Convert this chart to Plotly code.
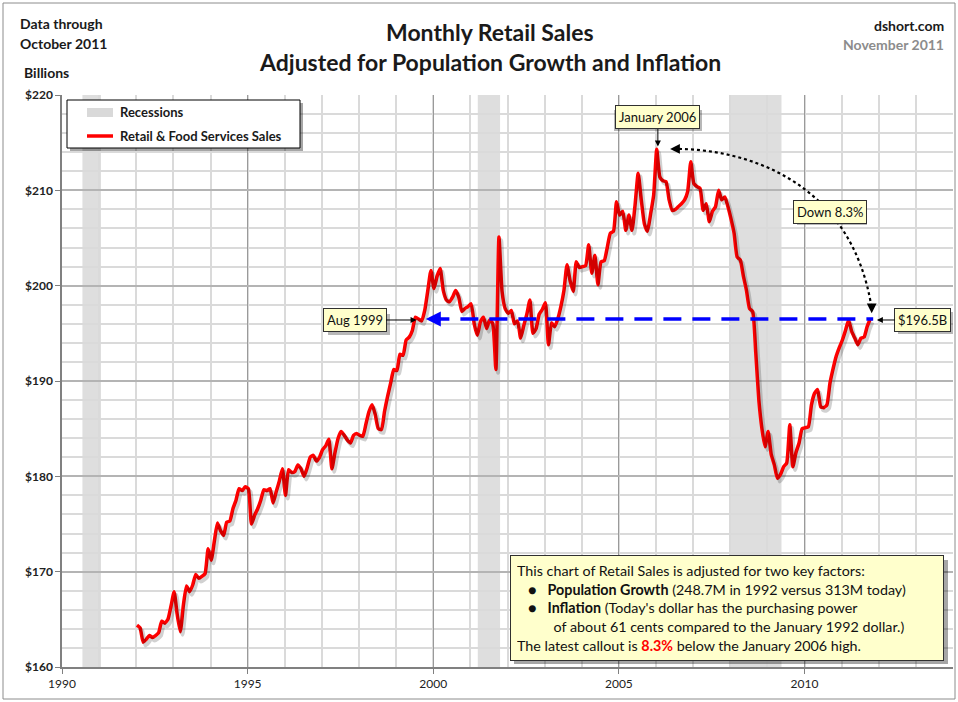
import plotly.graph_objects as go

# ---------------- data ----------------
years = list(range(1992, 2012))
sales_by_year = {
    1992: [164.4, 164.1, 162.6, 162.9, 163.3, 163.1, 163.3, 163.6, 164.8, 164.6, 165.0, 166.4],
    1993: [167.9, 165.5, 163.7, 166.5, 168.5, 167.9, 168.6, 169.7, 169.3, 169.5, 169.8, 172.4],
    1994: [171.2, 173.2, 175.1, 174.3, 173.8, 175.2, 175.3, 176.6, 177.5, 178.7, 178.5, 178.9],
    1995: [178.7, 175.0, 175.9, 176.6, 177.5, 178.6, 178.5, 178.7, 177.2, 178.4, 179.5, 180.8],
    1996: [178.0, 180.7, 180.4, 180.5, 181.2, 180.8, 180.0, 180.9, 182.0, 182.2, 181.6, 182.0],
    1997: [182.8, 183.2, 183.9, 180.8, 182.5, 184.0, 184.7, 184.3, 183.8, 183.5, 184.3, 184.5],
    1998: [184.3, 184.2, 185.5, 186.8, 187.5, 186.5, 185.0, 184.9, 186.8, 188.4, 189.8, 191.2],
    1999: [191.1, 192.8, 192.7, 194.3, 194.6, 195.3, 196.7, 196.5, 196.3, 197.4, 199.5, 201.6],
    2000: [199.7, 201.0, 201.8, 199.5, 198.5, 198.3, 198.8, 199.5, 198.8, 197.3, 197.6, 197.8],
    2001: [198.1, 196.0, 194.8, 196.2, 196.7, 195.5, 196.4, 196.0, 191.2, 205.1, 199.4, 197.6],
    2002: [197.1, 197.4, 196.0, 196.3, 194.5, 195.8, 197.0, 198.5, 195.0, 195.5, 197.0, 197.5],
    2003: [198.2, 193.8, 196.1, 195.7, 196.5, 197.8, 199.5, 202.2, 200.5, 199.4, 202.5, 201.9],
    2004: [202.0, 202.1, 204.3, 201.3, 203.2, 200.1, 202.5, 202.6, 204.0, 205.5, 205.7, 208.8],
    2005: [207.4, 207.8, 205.8, 207.4, 205.8, 208.5, 211.8, 209.0, 206.5, 205.7, 207.5, 209.5],
    2006: [214.3, 211.4, 211.0, 210.9, 209.0, 207.9, 208.0, 208.3, 208.6, 209.0, 209.9, 213.0],
    2007: [210.7, 210.4, 210.2, 207.9, 208.6, 206.7, 207.8, 208.3, 210.0, 209.0, 209.3, 208.3],
    2008: [207.0, 205.5, 203.0, 202.7, 201.0, 199.5, 197.6, 197.3, 193.0, 188.0, 185.0, 183.1],
    2009: [184.7, 182.3, 181.2, 179.8, 180.2, 181.0, 181.4, 185.4, 181.0, 182.5, 183.5, 185.0],
    2010: [185.1, 185.2, 187.5, 188.7, 189.1, 187.3, 187.2, 187.5, 189.8, 191.3, 192.6, 193.5],
    2011: [194.3, 195.3, 196.4, 195.2, 194.5, 193.8, 194.5, 194.6, 195.7, 196.5],
}
recessions = [(1990.55, 1991.05), (2001.2, 2001.8), (2008.0, 2009.38)]
y_ticks = [160, 170, 180, 190, 200, 210, 220]
x_ticks = [1990, 1995, 2000, 2005, 2010]
latest_value = 196.5

dates, values = [], []
for yr in years:
    for m, v in enumerate(sales_by_year[yr]):
        dates.append(yr + m / 12 + 0.02)
        values.append(v)

FONT = "Lato"

# plot area in pixels: x 62..953, y 95..667
def px2paper(px, py):
    return (px - 62) / 891, (667 - py) / 572

def prect(x0, y0, x1, y1, **kw):
    a, b = px2paper(x0, y0)
    c, d = px2paper(x1, y1)
    return dict(type="rect", xref="paper", yref="paper", x0=a, x1=c, y0=d, y1=b, **kw)

SHADOW = "rgba(0,0,0,0.28)"

# ---------------- figure ----------------
fig = go.Figure()

# shadow of the line (same data drawn on a slightly offset overlay axis)
fig.add_trace(go.Scatter(x=dates, y=values, mode="lines", xaxis="x2", yaxis="y2",
                         line=dict(color="rgba(0,0,0,0.18)", width=4, shape="spline", smoothing=0.5),
                         showlegend=False, hoverinfo="skip"))
fig.add_trace(go.Scatter(x=dates, y=values, mode="lines", name="Retail & Food Services Sales",
                         line=dict(color="#ff0000", width=3.5, shape="spline", smoothing=0.5),
                         showlegend=False))

shapes = []
for a, b in recessions:
    shapes.append(dict(type="rect", xref="x", yref="y", x0=a, x1=b, y0=160, y1=220,
                       fillcolor="#dedede", line=dict(width=0), layer="below"))

# blue dashed reference line at latest value
shapes.append(dict(type="line", xref="x", yref="y", x0=1999.95, x1=2011.85,
                   y0=latest_value, y1=latest_value,
                   line=dict(color="#0000ff", width=3.5, dash="18px,11px")))
# dotted curved arrow
shapes.append(dict(type="path", xref="x", yref="y",
                   path="M2006.62,214.34 C2008.59,214.23 2011.30,210.56 2011.81,197.6",
                   line=dict(color="#000000", width=2.2, dash="dot")))

# callout box shadows
for (x0, y0, x1, y1) in [(325, 311, 387, 332), (611, 107, 699, 128),
                         (794, 201, 864, 222), (895, 309, 950, 331)]:
    shapes.append(prect(x0 + 3, y0 + 3, x1 + 3, y1 + 3, fillcolor=SHADOW,
                        line=dict(width=0), layer="above"))

# info box shadow
shapes.append(prect(514, 560, 948, 664, fillcolor="rgba(0,0,0,0.35)",
                    line=dict(width=0), layer="above"))

# manual legend
shapes.append(prect(70, 103, 303, 151, fillcolor="rgba(0,0,0,0.35)", line=dict(width=0), layer="above"))
shapes.append(prect(67, 100, 300, 148, fillcolor="white", line=dict(color="#000", width=1), layer="above"))
shapes.append(prect(87, 108, 113, 117, fillcolor="#d9d9d9", line=dict(width=0), layer="above"))
lx0, ly = px2paper(87, 136)
lx1, _ = px2paper(113, 136)
shapes.append(dict(type="line", xref="paper", yref="paper", x0=lx0, x1=lx1, y0=ly, y1=ly,
                   line=dict(color="#ff0000", width=3.5), layer="above"))

# outer frame
shapes.append(prect(3, 3, 955, 699, line=dict(color="#8c8c8c", width=1), layer="below"))

box = dict(bgcolor="#ffffcc", bordercolor="#303030", borderwidth=1, borderpad=3,
           font=dict(family=FONT, size=13, color="#111"))

annotations = []
annotations.append(dict(x=1999.55, y=196.4, xref="x", yref="y", text="Aug 1999",
                        showarrow=True, ax=-62, ay=0, arrowhead=2, arrowsize=1.2,
                        arrowwidth=1, arrowcolor="#000", **box))
annotations.append(dict(x=1999.8, y=latest_value, xref="x", yref="y", text="",
                        showarrow=True, ax=16, ay=0, arrowhead=2, arrowsize=1,
                        arrowwidth=3, arrowcolor="#0000ff"))
annotations.append(dict(x=2006.05, y=214.6, xref="x", yref="y", text="January 2006",
                        showarrow=True, ax=0, ay=-29, arrowhead=2, arrowsize=1.2,
                        arrowwidth=1, arrowcolor="#000", **box))
annotations.append(dict(x=2006.38, y=214.34, xref="x", yref="y", text="",
                        showarrow=True, ax=10, ay=0, arrowhead=2, arrowsize=1.3,
                        arrowwidth=1.5, arrowcolor="#000"))
annotations.append(dict(x=2011.81, y=197.1, xref="x", yref="y", text="",
                        showarrow=True, ax=0, ay=-10, arrowhead=2, arrowsize=1.3,
                        arrowwidth=1.5, arrowcolor="#000"))
annotations.append(dict(x=2010.70, y=207.78, xref="x", yref="y", text="Down 8.3%",
                        showarrow=False, **box))
annotations.append(dict(x=2011.95, y=196.4, xref="x", yref="y", text="$196.5B",
                        showarrow=True, ax=46, ay=0, arrowhead=2, arrowsize=1.2,
                        arrowwidth=1, arrowcolor="#000", **box))

# explanatory text box
bx, by = px2paper(727, 608)
info = ("This chart of Retail Sales is adjusted for two key factors:<br>"
        "   ●   <b>Population Growth</b> (248.7M in 1992 versus 313M today)<br>"
        "   ●   <b>Inflation</b> (Today's dollar has the purchasing power<br>"
        "          of about 61 cents compared to the January 1992 dollar.)<br>"
        "The latest callout is <b><span style='color:#ff0000'>8.3%</span></b> below the January 2006 high.")
annotations.append(dict(x=bx, y=by, xref="paper", yref="paper", text=info, align="left",
                        showarrow=False, xanchor="center", yanchor="middle",
                        width=420, height=92,
                        bgcolor="#ffffcc", bordercolor="#303030", borderwidth=1, borderpad=6,
                        font=dict(family=FONT, size=14.3, color="#111")))

def ptext(px, py, text, size, color="#1a1a1a", xanchor="left", bold=True):
    x, y = px2paper(px, py)
    t = f"<b>{text}</b>" if bold else text
    return dict(x=x, y=y, xref="paper", yref="paper", text=t, showarrow=False,
                xanchor=xanchor, yanchor="middle", font=dict(family=FONT, size=size, color=color))

annotations += [
    ptext(490, 32, "Monthly Retail Sales", 23, xanchor="center"),
    ptext(490, 62, "Adjusted for Population Growth and Inflation", 23, xanchor="center"),
    ptext(18, 23, "Data through", 14),
    ptext(18, 43, "October 2011", 14),
    ptext(22, 73, "Billions", 14),
    ptext(946, 25, "dshort.com", 14, xanchor="right"),
    ptext(946, 45, "November 2011", 14, color="#8c8c8c", xanchor="right"),
    ptext(118, 112, "Recessions", 13),
    ptext(118, 136, "Retail & Food Services Sales", 13),
]

fig.update_layout(
    width=958, height=702,
    margin=dict(l=62, r=5, t=95, b=35),
    paper_bgcolor="white", plot_bgcolor="white",
    font=dict(family=FONT, size=12, color="#222"),
    showlegend=False,
    xaxis=dict(range=[1990, 2014], tickmode="array", tickvals=x_ticks,
               ticktext=[str(t) for t in x_ticks],
               showgrid=True, gridcolor="#9a9a9a", gridwidth=1,
               minor=dict(dtick=1, tick0=1990, showgrid=True, gridcolor="#dadada", gridwidth=2),
               showline=True, linecolor="#808080", linewidth=1.5,
               ticks="outside", ticklen=5, tickcolor="#808080",
               tickfont=dict(family=FONT, size=12, color="#222"), zeroline=False, fixedrange=True),
    yaxis=dict(range=[160, 220], tickmode="array", tickvals=y_ticks,
               ticktext=[f"${t}" for t in y_ticks],
               showgrid=True, gridcolor="#b4b4b4", gridwidth=2,
               minor=dict(dtick=2, tick0=160, showgrid=True, gridcolor="#dadada", gridwidth=2),
               showline=True, linecolor="#808080", linewidth=1.5,
               ticks="outside", ticklen=5, tickcolor="#808080",
               tickfont=dict(family=FONT, size=12, color="#222", weight="bold"), zeroline=False, fixedrange=True),
    xaxis2=dict(range=[1990 - 0.06, 2014 - 0.06], overlaying="x", visible=False, fixedrange=True),
    yaxis2=dict(range=[160 + 0.33, 220 + 0.33], overlaying="y", visible=False, fixedrange=True),
    shapes=shapes,
    annotations=annotations,
)

fig.write_html("out.html")
